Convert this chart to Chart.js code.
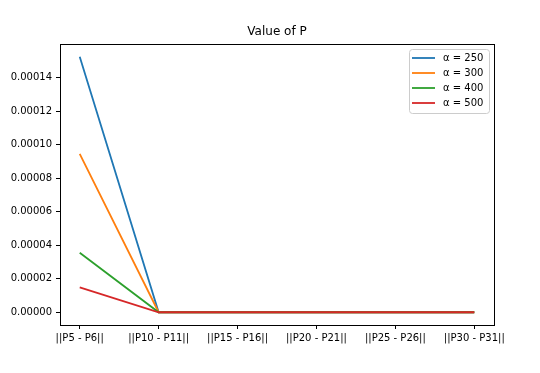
<!DOCTYPE html>
<html>
<head>
<meta charset="utf-8">
<script src="https://cdn.jsdelivr.net/npm/chart.js@4"></script>
<style>
  html, body { margin: 0; padding: 0; background: #fff; }
  #wrap { width: 540px; height: 373px; }
</style>
</head>
<body>
<div id="wrap"><canvas id="line-chart" width="540" height="373"></canvas></div>
<script>
// data
const categories = ['||P5 - P6||', '||P10 - P11||', '||P15 - P16||', '||P20 - P21||', '||P25 - P26||', '||P30 - P31||'];
const seriesLabels = ['α = 250', 'α = 300', 'α = 400', 'α = 500'];
const alpha250 = [0.0001525, 0, 0, 0, 0, 0];
const alpha300 = [0.0000945, 0, 0, 0, 0, 0];
const alpha400 = [0.0000355, 0, 0, 0, 0, 0];
const alpha500 = [0.0000149, 0, 0, 0, 0, 0];
const yTicks = [0, 0.00002, 0.00004, 0.00006, 0.00008, 0.0001, 0.00012, 0.00014];
const chartTitle = 'Value of P';

const colors = ['#1f77b4', '#ff7f0e', '#2ca02c', '#d62728'];
const FONT = 'DejaVu Sans';

function toPoints(values) {
    return values.map((v, i) => ({ x: i, y: v }));
}

// frame around the plot area, title centred over it, and a matplotlib-like legend inside it
const framePlugin = {
    id: 'frame',
    afterDraw(chart) {
        const ctx = chart.ctx;
        const a = chart.chartArea;
        ctx.save();
        ctx.strokeStyle = '#000';
        ctx.lineWidth = 1;
        ctx.strokeRect(Math.round(a.left) + 0.5, Math.round(a.top) + 0.5,
            Math.round(a.right - a.left), Math.round(a.bottom - a.top));

        // title
        ctx.fillStyle = '#000';
        ctx.font = '12px "' + FONT + '"';
        ctx.textAlign = 'center';
        ctx.textBaseline = 'middle';
        ctx.fillText(chartTitle, (a.left + a.right) / 2, a.top - 12);

        // legend
        const boxW = 80, rowH = 15, boxH = 64;
        const bx = a.right - 5 - boxW;
        const by = a.top + 5;
        ctx.fillStyle = 'rgba(255,255,255,0.8)';
        ctx.strokeStyle = '#cccccc';
        ctx.beginPath();
        ctx.roundRect(bx + 0.5, by + 0.5, boxW, boxH, 3);
        ctx.fill();
        ctx.stroke();
        ctx.font = '10px "' + FONT + '"';
        ctx.textAlign = 'left';
        ctx.textBaseline = 'middle';
        chart.data.datasets.forEach((ds, i) => {
            const y = by + 9 + i * rowH;
            ctx.strokeStyle = ds.borderColor;
            ctx.lineWidth = 1.8;
            ctx.beginPath();
            ctx.moveTo(bx + 3, y);
            ctx.lineTo(bx + 26, y);
            ctx.stroke();
            ctx.fillStyle = '#000';
            ctx.fillText(ds.label, bx + 34, y);
        });
        ctx.restore();
    }
};

const ctx = document.getElementById('line-chart').getContext('2d');
new Chart(ctx, {
    type: 'line',
    data: {
        datasets: [alpha250, alpha300, alpha400, alpha500].map((vals, i) => ({
            label: seriesLabels[i],
            data: toPoints(vals),
            borderColor: colors[i],
            backgroundColor: colors[i],
            borderWidth: 1.8,
            pointRadius: 0,
            tension: 0,
            fill: false,
            order: 3 - i
        }))
    },
    options: {
        responsive: false,
        animation: false,
        events: [],
        layout: { padding: { left: 0, right: 46, top: 44, bottom: 0 } },
        plugins: {
            legend: { display: false },
            tooltip: { enabled: false },
            title: { display: false }
        },
        scales: {
            x: {
                type: 'linear',
                min: -0.25,
                max: 5.25,
                afterBuildTicks: s => { s.ticks = categories.map((c, i) => ({ value: i })); },
                afterFit: s => { s.height = 48; },
                ticks: {
                    color: '#000',
                    font: { family: FONT, size: 10 },
                    padding: 3,
                    maxRotation: 0,
                    autoSkip: false,
                    callback: v => categories[v]
                },
                grid: { drawOnChartArea: false, color: '#000', tickLength: 4 },
                border: { display: false }
            },
            y: {
                min: -0.0000076,
                max: 0.0001601,
                afterBuildTicks: s => { s.ticks = yTicks.map(v => ({ value: v })); },
                afterFit: s => { s.width = 60; },
                ticks: {
                    color: '#000',
                    font: { family: FONT, size: 10 },
                    padding: 4,
                    callback: v => v.toFixed(5)
                },
                grid: { drawOnChartArea: false, color: '#000', tickLength: 4 },
                border: { display: false }
            }
        }
    },
    plugins: [framePlugin]
});
</script>
</body>
</html>
